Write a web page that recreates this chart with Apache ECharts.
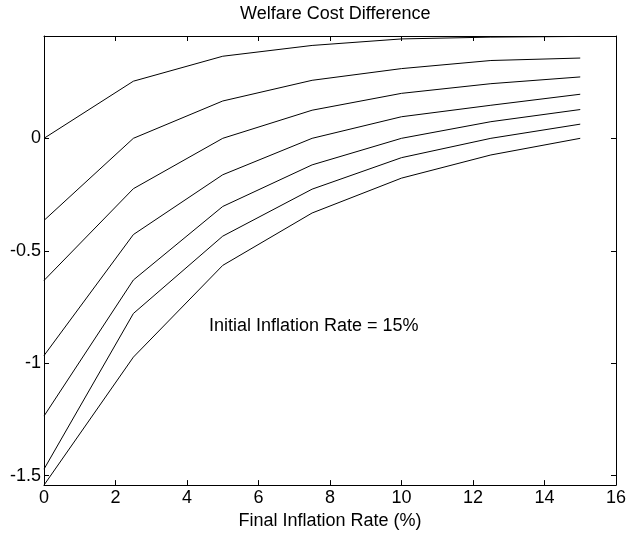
<!DOCTYPE html>
<html>
<head>
<meta charset="utf-8">
<script src="https://cdn.jsdelivr.net/npm/echarts@6/dist/echarts.min.js"></script>
<style>
  html, body { margin: 0; padding: 0; background: #fff; }
  #chart { width: 629px; height: 535px; }
</style>
</head>
<body>
<div id="chart"></div>
<script>
// final inflation rate (%)
var finalRate = [0, 2.5, 5, 7.5, 10, 12.5, 15]
// welfare cost difference, one curve per starting level
var curve1 = [0, 0.254, 0.365, 0.413, 0.442, 0.450, 0.453]
var curve2 = [-0.365, 0, 0.166, 0.258, 0.310, 0.346, 0.357]
var curve3 = [-0.632, -0.224, 0, 0.125, 0.200, 0.243, 0.273]
var curve4 = [-0.966, -0.428, -0.162, 0, 0.096, 0.147, 0.196]
var curve5 = [-1.235, -0.630, -0.303, -0.118, 0, 0.074, 0.128]
var curve6 = [-1.471, -0.779, -0.435, -0.226, -0.086, 0, 0.063]
var curve7 = [-1.542, -0.973, -0.565, -0.332, -0.177, -0.074, 0]
var yTicks = [-1.5, -1, -0.5, 0]

var curves = [curve1, curve2, curve3, curve4, curve5, curve6, curve7]
var font = 'Liberation Sans, Arial, sans-serif'

var chart = echarts.init(document.getElementById('chart'))

var axisLine = { show: true, onZero: false, lineStyle: { color: '#000', width: 1 } }
var tick = { show: true, inside: true, length: 5, lineStyle: { color: '#000' } }

chart.setOption({
  backgroundColor: '#fff',
  animation: false,
  title: {
    text: 'Welfare Cost Difference',
    left: 235,
    top: 0,
    textStyle: { fontSize: 18, fontWeight: 'normal', color: '#000', fontFamily: font }
  },
  graphic: [{
    type: 'text',
    left: 209,
    top: 317,
    style: {
      text: 'Initial Inflation Rate = 15%',
      fill: '#000',
      fontSize: 18,
      fontFamily: font
    }
  }],
  grid: { left: 44, right: 13, top: 36, bottom: 48 },
  xAxis: [{
    type: 'value',
    min: 0,
    max: 16,
    interval: 2,
    name: 'Final Inflation Rate (%)',
    nameLocation: 'middle',
    nameGap: 24,
    nameTextStyle: { fontSize: 18, color: '#000', fontFamily: font },
    axisLine: axisLine,
    axisTick: tick,
    axisLabel: { color: '#000', fontSize: 18, fontFamily: font, margin: 4 },
    splitLine: { show: false }
  }, {
    type: 'value',
    position: 'top',
    min: 0,
    max: 16,
    interval: 2,
    axisLine: axisLine,
    axisTick: tick,
    axisLabel: { show: false },
    splitLine: { show: false }
  }],
  yAxis: [{
    type: 'value',
    min: -1.542,
    max: 0.455,
    axisLine: axisLine,
    axisTick: Object.assign({ customValues: yTicks }, tick),
    axisLabel: { customValues: yTicks, color: '#000', fontSize: 18, fontFamily: font, margin: 3 },
    splitLine: { show: false }
  }, {
    type: 'value',
    position: 'right',
    min: -1.542,
    max: 0.455,
    axisLine: axisLine,
    axisTick: Object.assign({ customValues: yTicks }, tick),
    axisLabel: { show: false },
    splitLine: { show: false }
  }],
  series: curves.map(function (c) {
    return {
      type: 'line',
      showSymbol: false,
      symbol: 'none',
      lineStyle: { color: '#000', width: 1 },
      data: finalRate.map(function (x, i) { return [x, c[i]] })
    }
  })
})
</script>
</body>
</html>
